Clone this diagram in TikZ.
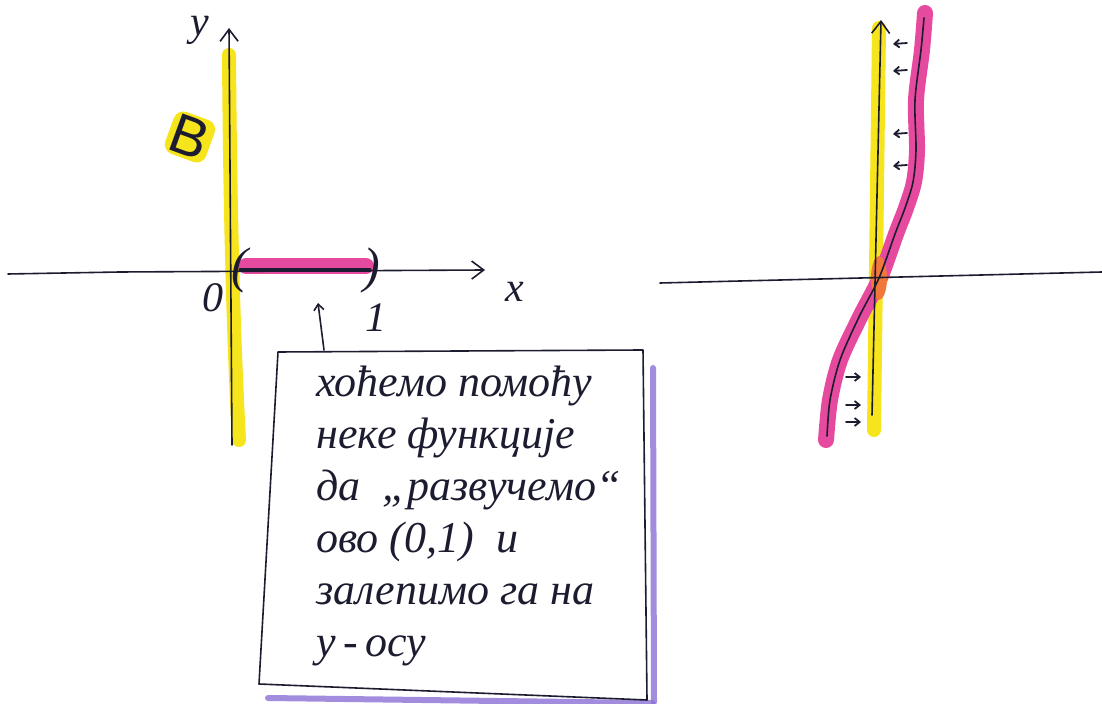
\documentclass[tikz,border=0pt]{standalone}
\usepackage{fontspec}
\setmainfont{Liberation Serif}
\setsansfont{Liberation Sans}
\newfontfamily\hand[Language=Serbian]{Liberation Serif}
\usetikzlibrary{positioning, arrows.meta}
\definecolor{ink}{HTML}{1c1c30}
\definecolor{hiyel}{HTML}{f6e41c}
\definecolor{hipink}{HTML}{e64a9e}
\definecolor{hipurp}{HTML}{8a6fd4}
\definecolor{hiorange}{HTML}{f2783a}

\begin{document}
\begin{tikzpicture}[x=0.5pt, y=-0.5pt, line cap=round, line join=round,
  ax/.style={draw=ink, line width=0.8pt},
  axarr/.style={ax, -{Straight Barb[length=6pt, width=9pt, line width=0.8pt]}},
  hiy/.style={draw=hiyel, line width=7pt},
  hip/.style={draw=hipink, line width=8pt},
  nudge/.style={draw=ink, line width=0.9pt, -{Straight Barb[length=2.5pt, width=4pt]}},
  lbl/.style={text=ink, inner sep=0pt, font=\hand\itshape\fontsize{21}{21}\selectfont},
  notetext/.style={text=ink, align=left, inner sep=0pt, font=\hand\itshape\fontsize{22}{26}\selectfont}
]
\useasboundingbox (0,0) rectangle (1102,704);

% left picture: the axes, B on the y-axis and the interval (0,1)
\draw[hiy] (229,55) .. controls (230,200) and (233,330) .. (239,440);
\draw[hip] (246,266) -- (366,266);
\draw[axarr] (8,274) -- (120,272) -- (485,270);
\draw[axarr] (232,445) -- (229,28);
\draw[ink, line width=1.6pt] (240,270) -- (370,270);
\node[lbl, font=\hand\itshape\fontsize{25}{25}\selectfont] (lpar) at (240,270) {(};
\node[lbl, font=\hand\itshape\fontsize{25}{25}\selectfont] (rpar) at (372,270) {)};
\node[lbl] (ylab) at (200,30) {y};
\node[lbl] (xlab) at (515,292) {x};
\node[lbl] (zero) at (213,298) {0};
\node[lbl] (one) at (376,318) {1};
\node[fill=hiyel, rounded corners=5pt, inner sep=1.5pt, rotate=-20, text=ink,
  font=\sffamily\fontsize{28}{28}\selectfont] (bset) at (190,137) {B};

% the note
\coordinate (bnw) at (278,352);
\coordinate (bne) at (643,350);
\coordinate (bse) at (647,700);
\coordinate (bsw) at (259,684);
\draw[hipurp, line width=3pt, opacity=0.8] (653,368) -- (654,702);
\draw[hipurp, line width=3pt, opacity=0.8] (268,698) -- (652,703);
\draw[ax] (bnw) -- (bne) -- (bse) -- (bsw) -- cycle;
\node[notetext, anchor=north west] (note) at (316,366)
  {хоћемо помоћу\\неке функције\\да \ „развучемо“\\ово (0,1) \ и\\залепимо га на\\y\,-\,осу};
\coordinate (ptrtop) at (318,303);
\coordinate (ptrfoot) at (324,350);
\draw[ax, -{Straight Barb[length=3pt, width=5pt]}] (ptrfoot) -- (ptrtop);

% right picture: the curve pressed onto the y-axis
\draw[hiy] (879,28) -- (874,430);
\draw[hip] plot[smooth] coordinates {(925,13) (922,50) (916,100) (917,150) (914,182) (906,208) (896,234) (880,278) (860,317) (840,360) (830,400) (826,440)};
\fill[hiorange] (879,278) ellipse (8 and 22);
\draw[ax] (660,283) -- (1102,272);
\draw[axarr] (872,415) -- (881,20);
\draw[ax] plot[smooth] coordinates {(924,18) (921,50) (915,100) (916,150) (913,182) (905,208) (895,234) (879,278) (859,317) (840,360) (830,400) (827,436)};
\foreach \yy in {43,70,133,165}
  \draw[nudge] (907,\yy) -- (893,\yy+1);
\foreach \yy in {377,405,422}
  \draw[nudge] (846,\yy) -- (861,\yy);
\end{tikzpicture}
\end{document}
